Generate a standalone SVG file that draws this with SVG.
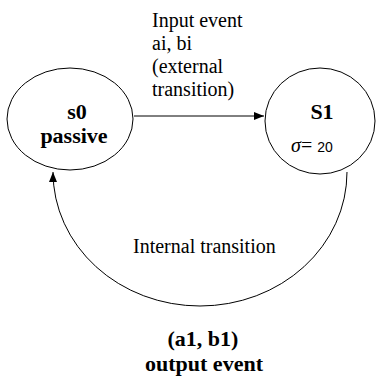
<svg xmlns="http://www.w3.org/2000/svg" width="377" height="381" viewBox="0 0 377 381">
  <style>
    .node { fill: #fff; stroke: #000; stroke-width: 1; }
    .edge { fill: none; stroke: #000; stroke-width: 1; }
    .lbl { font-family: "Liberation Serif", "Times New Roman", serif; font-size: 20px; fill: #000; }
    .bold { font-family: "Liberation Serif", "Times New Roman", serif; font-size: 22px; font-weight: bold; fill: #000; }
    .num { font-family: "Liberation Sans", Arial, sans-serif; font-size: 14px; }
  </style>
  <defs>
    <marker id="arrow" viewBox="0 0 10 8" refX="10" refY="4" markerWidth="10" markerHeight="8" markerUnits="userSpaceOnUse" orient="auto">
      <path d="M0,0 L10,4 L0,8 z" fill="#000"/>
    </marker>
  </defs>
  <rect width="377" height="381" fill="#fff"/>
  <g id="connectors">
    <line class="edge" x1="134" y1="116" x2="264" y2="116" marker-end="url(#arrow)"/>
    <path class="edge" d="M 347 172 A 147 134 0 0 1 53 172" marker-end="url(#arrow)"/>
  </g>
  <g id="node-s0">
    <ellipse class="node" cx="70" cy="119" rx="63" ry="51"/>
    <text class="bold" x="77" y="119" text-anchor="middle">s0</text>
    <text class="bold" x="74" y="143" text-anchor="middle">passive</text>
  </g>
  <g id="node-s1">
    <ellipse class="node" cx="320" cy="121" rx="55" ry="53"/>
    <text class="bold" x="322" y="119" text-anchor="middle">S1</text>
    <text class="lbl" x="291" y="152"><tspan font-style="italic">σ</tspan><tspan>= </tspan><tspan class="num">20</tspan></text>
  </g>
  <g id="labels">
    <text class="lbl" x="152" y="27">Input event</text>
    <text class="lbl" x="152" y="50">ai, bi</text>
    <text class="lbl" x="152" y="73">(external</text>
    <text class="lbl" x="152" y="96">transition)</text>
    <text class="lbl" x="133" y="253">Internal transition</text>
    <text class="bold" x="203" y="346" text-anchor="middle">(a1, b1)</text>
    <text class="bold" x="204" y="371" text-anchor="middle">output event</text>
  </g>
</svg>
